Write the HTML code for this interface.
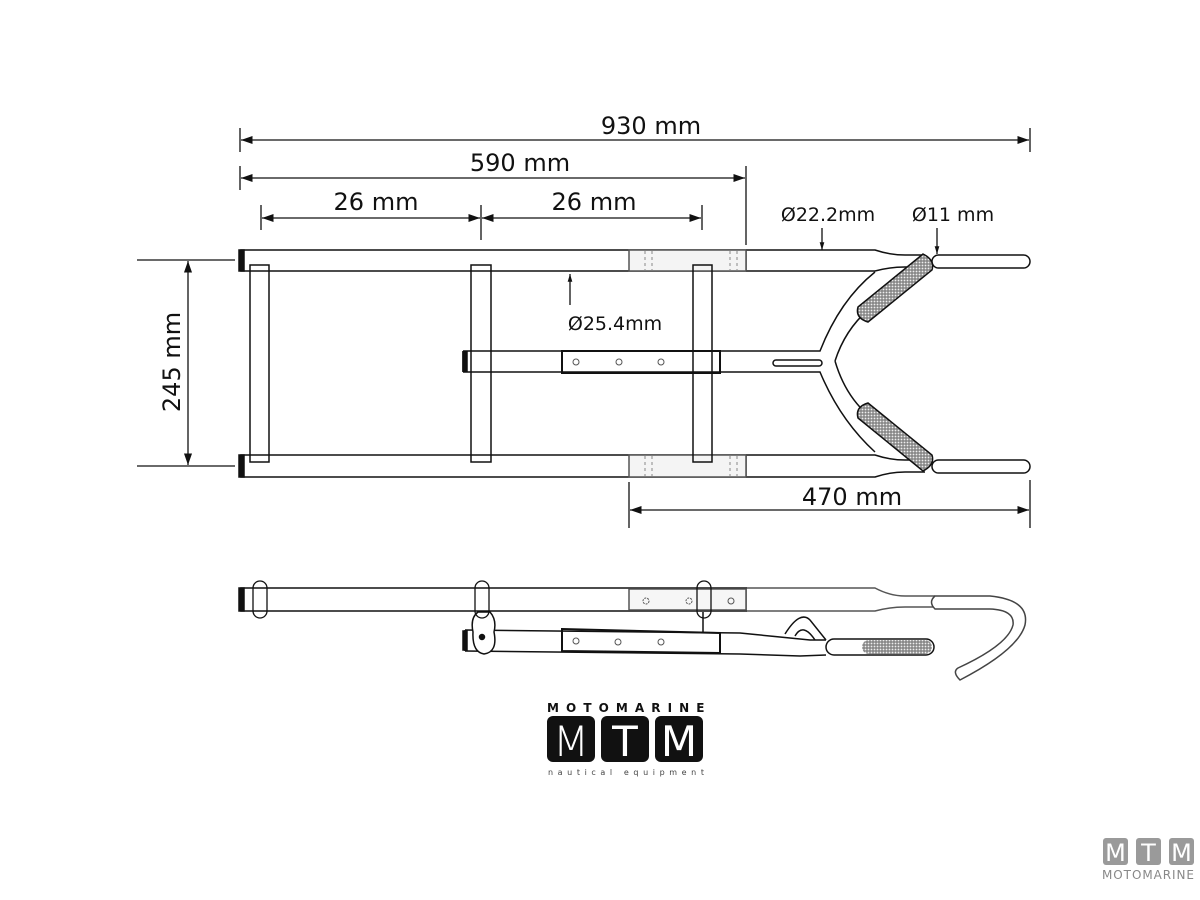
<!DOCTYPE html>
<html><head><meta charset="utf-8"><style>
html,body{margin:0;padding:0;background:#fff;width:1200px;height:900px;overflow:hidden}
svg text{font-family:"DejaVu Sans","Liberation Sans",sans-serif;fill:#111}
</style></head><body>
<svg width="1200" height="900" viewBox="0 0 1200 900" xmlns="http://www.w3.org/2000/svg">
<defs>
<marker id="a" viewBox="0 0 10 10" refX="10" refY="5" markerWidth="9" markerHeight="9" orient="auto-start-reverse"><path d="M0,1.5 L10,5 L0,8.5 z" fill="#111"/></marker>
<marker id="s" viewBox="0 0 10 10" refX="10" refY="5" markerWidth="6" markerHeight="6" orient="auto"><path d="M0,2 L10,5 L0,8 z" fill="#111"/></marker>
<pattern id="k" width="3" height="3" patternUnits="userSpaceOnUse"><rect width="3" height="3" fill="#888"/><circle cx="1.5" cy="1.5" r="0.9" fill="#eee"/></pattern>
</defs>
<g stroke="#111" stroke-width="1.3" fill="none">
<!-- dimension lines -->
<line x1="240" y1="128" x2="240" y2="152"/><line x1="1030" y1="128" x2="1030" y2="152"/>
<line x1="241" y1="140" x2="1029" y2="140" marker-start="url(#a)" marker-end="url(#a)"/>
<line x1="240" y1="166" x2="240" y2="190"/><line x1="746" y1="166" x2="746" y2="245"/>
<line x1="241" y1="178" x2="745" y2="178" marker-start="url(#a)" marker-end="url(#a)"/>
<line x1="261" y1="205" x2="261" y2="230"/><line x1="481" y1="205" x2="481" y2="240"/><line x1="702" y1="205" x2="702" y2="230"/>
<line x1="262" y1="218" x2="480" y2="218" marker-start="url(#a)" marker-end="url(#a)"/>
<line x1="482" y1="218" x2="701" y2="218" marker-start="url(#a)" marker-end="url(#a)"/>
<line x1="137" y1="260" x2="235" y2="260"/><line x1="137" y1="466" x2="235" y2="466"/>
<line x1="188" y1="261" x2="188" y2="465" marker-start="url(#a)" marker-end="url(#a)"/>
<line x1="629" y1="482" x2="629" y2="528"/><line x1="1030" y1="480" x2="1030" y2="528"/>
<line x1="630" y1="510" x2="1029" y2="510" marker-start="url(#a)" marker-end="url(#a)"/>
<line x1="822" y1="228" x2="822" y2="250" marker-end="url(#s)"/>
<line x1="937" y1="228" x2="937" y2="254" marker-end="url(#s)"/>
<line x1="570" y1="305" x2="570" y2="274" marker-end="url(#s)"/>
</g>
<text x="651" y="134" font-size="24" text-anchor="middle">930 mm</text>
<text x="520" y="171" font-size="24" text-anchor="middle">590 mm</text>
<text x="376" y="210" font-size="24" text-anchor="middle">26 mm</text>
<text x="594" y="210" font-size="24" text-anchor="middle">26 mm</text>
<text x="828" y="221" font-size="19" text-anchor="middle">Ø22.2mm</text>
<text x="953" y="221" font-size="19" text-anchor="middle">Ø11 mm</text>
<text x="615" y="330" font-size="19" text-anchor="middle">Ø25.4mm</text>
<text x="852" y="505" font-size="24" text-anchor="middle">470  mm</text>
<text transform="translate(180,362) rotate(-90)" font-size="24" text-anchor="middle">245 mm</text>

<!-- top view -->
<g stroke="#111" stroke-width="1.5" fill="#fff">
<path d="M746,250 L875,250 Q890,255 905,255 L925,255 M746,271 L875,271 Q890,267 905,267 L918,267" fill="none"/>
<path d="M746,455 L875,455 Q890,460 905,460 L918,460 M746,477 L875,477 Q890,472 905,472 L925,472" fill="none"/>
<rect x="241" y="250" width="505" height="21"/>
<rect x="241" y="455" width="505" height="22"/>
<rect x="629" y="250" width="117" height="21" fill="#f4f4f4" stroke="#555"/>
<rect x="629" y="455" width="117" height="22" fill="#f4f4f4" stroke="#555"/>
<rect x="239" y="250" width="5" height="21" fill="#111"/>
<rect x="239" y="455" width="5" height="22" fill="#111"/>
<rect x="250" y="265" width="19" height="197" fill="none"/>
<rect x="471" y="265" width="20" height="197" fill="none"/>
<rect x="693" y="265" width="19" height="197" fill="none"/>
<path d="M463,351 L820,351 Q840,300 875,272 M463,372 L820,372 Q840,420 875,452" fill="none"/>
<path d="M835,361 Q845,330 868,310 M835,361 Q845,395 868,415" fill="none"/>
<line x1="463" y1="351" x2="463" y2="372"/>
<rect x="463" y="352" width="4" height="19" fill="#111"/>
<rect x="562" y="351" width="158" height="22" fill="none" stroke-width="2"/>
<rect x="773" y="360" width="49" height="6" rx="3"/>
<rect x="932" y="255" width="98" height="13" rx="6.5"/>
<rect x="932" y="460" width="98" height="13" rx="6.5"/>
</g>
<g stroke="#111" stroke-width="1.5" fill="url(#k)">
<path d="M858,307 L923,254 Q935,260 932,270 L868,322 Q855,318 858,307 z"/>
<path d="M858,418 L923,471 Q935,465 932,455 L868,403 Q855,407 858,418 z"/>
</g>
<g fill="none" stroke="#555" stroke-width="1">
<circle cx="576" cy="362" r="3"/><circle cx="619" cy="362" r="3"/><circle cx="661" cy="362" r="3"/>
<circle cx="625" cy="362" r="0"/>
</g>
<g stroke="#888" stroke-width="1" stroke-dasharray="3,3">
<line x1="645" y1="251" x2="645" y2="270"/><line x1="652" y1="251" x2="652" y2="270"/>
<line x1="730" y1="251" x2="730" y2="270"/><line x1="737" y1="251" x2="737" y2="270"/>
<line x1="645" y1="456" x2="645" y2="476"/><line x1="652" y1="456" x2="652" y2="476"/>
<line x1="730" y1="456" x2="730" y2="476"/><line x1="737" y1="456" x2="737" y2="476"/>
</g>

<!-- side view -->
<g stroke="#111" stroke-width="1.5" fill="#fff">
<path d="M746,588 L875,588 Q890,596 905,596 L935,596 M746,611 L875,611 Q890,607 905,607 L935,607" fill="none" stroke="#555"/>
<path d="M935,596 L990,596 Q1030,600 1025,625 Q1018,650 960,680 Q952,672 958,668 Q1008,645 1013,625 Q1015,610 990,609 L935,609 Q928,602 935,596 z" fill="#fff" stroke="#444"/>
<rect x="241" y="588" width="505" height="23"/>
<rect x="629" y="589" width="117" height="21" fill="#f6f6f6" stroke="#555"/>
<rect x="239" y="588" width="5" height="23" fill="#111"/>
<path d="M465,630 L740,633 L810,640 L826,640 M465,651 L740,654 L800,656 L826,655" fill="none"/>
<path d="M785,634 Q800,610 810,620 L826,640 M795,636 Q803,622 815,640" fill="none"/>
<line x1="465" y1="630" x2="465" y2="651"/>
<rect x="463" y="631" width="4" height="19" fill="#111"/>
<path d="M562,629 L720,633 L720,653 L562,651 z" fill="none" stroke-width="2"/>
<rect x="826" y="639" width="108" height="16" rx="8"/>
<rect x="862" y="640" width="70" height="14" rx="7" fill="url(#k)" stroke="none"/>
<path d="M473,632 Q470,618 478,612 L490,612 Q497,620 494,632 Q498,652 484,654 Q472,652 473,632 z" fill="#fff"/>
<circle cx="482" cy="637" r="2.5" fill="#111"/>
<line x1="703" y1="612" x2="703" y2="632"/>
</g>
<g stroke="#111" stroke-width="1.3" fill="none">
<rect x="253" y="581" width="14" height="37" rx="7"/>
<rect x="475" y="581" width="14" height="37" rx="7"/>
<rect x="697" y="581" width="14" height="37" rx="7"/>
</g>
<g fill="none" stroke="#555" stroke-width="1">
<circle cx="646" cy="601" r="3" stroke-dasharray="2,1"/><circle cx="689" cy="601" r="3" stroke-dasharray="2,1"/><circle cx="731" cy="601" r="3"/>
<circle cx="576" cy="641" r="3"/><circle cx="618" cy="642" r="3"/><circle cx="661" cy="642" r="3"/>
</g>

<!-- logo -->
<text x="626" y="712" font-size="12" font-weight="bold" text-anchor="middle" letter-spacing="0.5" textLength="158">MOTOMARINE</text>
<rect x="547" y="716" width="48" height="46" rx="6" fill="#111"/>
<rect x="601" y="716" width="48" height="46" rx="6" fill="#111"/>
<rect x="655" y="716" width="48" height="46" rx="6" fill="#111"/>
<text x="571" y="756" font-size="42" text-anchor="middle" style="fill:#fff;font-weight:300">M</text>
<text x="625" y="756" font-size="42" text-anchor="middle" style="fill:#fff">T</text>
<text x="679" y="756" font-size="42" text-anchor="middle" style="fill:#fff">M</text>
<text x="626" y="775" font-size="8" text-anchor="middle" textLength="156" style="fill:#444">nautical equipment</text>

<rect x="1103" y="838" width="25" height="27" rx="3" fill="#9a9a9a"/>
<rect x="1136" y="838" width="25" height="27" rx="3" fill="#9a9a9a"/>
<rect x="1169" y="838" width="25" height="27" rx="3" fill="#9a9a9a"/>
<text x="1115.5" y="861" font-size="24" text-anchor="middle" style="fill:#fff">M</text>
<text x="1148.5" y="861" font-size="24" text-anchor="middle" style="fill:#fff">T</text>
<text x="1181.5" y="861" font-size="24" text-anchor="middle" style="fill:#fff">M</text>
<text x="1148" y="879" font-size="12" text-anchor="middle" textLength="92" style="fill:#888">MOTOMARINE</text>
</svg>
</body></html>
